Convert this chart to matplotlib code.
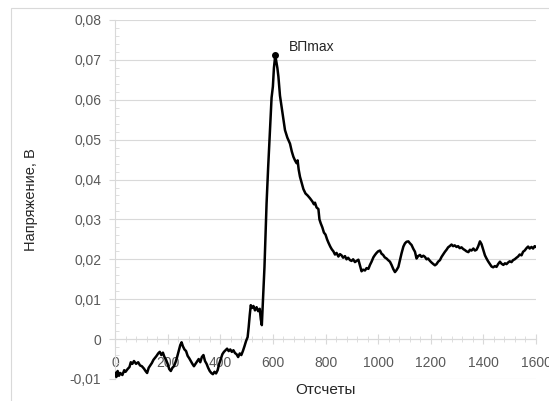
import matplotlib
matplotlib.use("Agg")
import matplotlib.pyplot as plt
from matplotlib.ticker import MultipleLocator, FuncFormatter
from matplotlib.patches import Rectangle

plt.rcParams["font.family"] = ["Liberation Sans", "DejaVu Sans"]

# signal (samples, volts)
samples = [
    0, 5, 10, 15, 20, 28, 35, 40, 48, 55, 60, 66, 72, 80, 88, 95, 102, 110,
    116, 122, 128, 134, 140, 146, 152, 158, 164, 170, 176, 182, 188, 194,
    200, 206, 212, 218, 224, 230, 236, 242, 248, 253, 258, 264, 270, 276,
    282, 288, 294, 300, 306, 312, 318, 324, 330, 336, 342, 348, 354, 360,
    366, 372, 378, 384, 390, 396, 402, 408, 414, 420, 426, 432, 438, 444,
    450, 456, 462, 468, 474, 480, 486, 492, 498, 504, 508, 512, 516, 520,
    526, 532, 538, 544, 550, 554, 558, 561, 564, 568, 572, 576, 582, 589,
    595, 600, 604, 608, 612, 617, 621, 627, 633, 640, 646, 655, 665, 672,
    678, 684, 690, 694, 698, 703, 710, 716, 724, 732, 741, 750, 756, 760,
    766, 773, 777, 782, 788, 794, 800, 806, 811, 818, 824, 830, 836, 842,
    849, 855, 861, 867, 874, 880, 886, 893, 899, 905, 912, 918, 925, 931,
    937, 943, 950, 956, 963, 969, 975, 982, 988, 994, 1000, 1007, 1013,
    1019, 1025, 1032, 1038, 1045, 1051, 1058, 1064, 1070, 1077, 1083, 1089,
    1096, 1102, 1108, 1115, 1121, 1127, 1134, 1140, 1146, 1152, 1159, 1165,
    1172, 1178, 1184, 1190, 1197, 1203, 1210, 1216, 1222, 1228, 1235, 1241,
    1248, 1254, 1260, 1266, 1272, 1279, 1285, 1291, 1298, 1304, 1310, 1317,
    1323, 1330, 1336, 1343, 1349, 1355, 1362, 1368, 1374, 1380, 1387, 1393,
    1400, 1406, 1412, 1418, 1425, 1431, 1437, 1444, 1450, 1456, 1463, 1469,
    1476, 1482, 1488, 1494, 1500, 1507, 1513, 1519, 1526, 1532, 1538, 1545,
    1551, 1557, 1564, 1570, 1576, 1583, 1589, 1595, 1600,
]
voltage = [
    -0.0085, -0.0095, -0.0080, -0.0092, -0.0085, -0.0090, -0.0078, -0.0082,
    -0.0075, -0.0070, -0.0058, -0.0062, -0.0055, -0.0062, -0.0058, -0.0066,
    -0.0068, -0.0074, -0.0080, -0.0085, -0.0072, -0.0066, -0.0060, -0.0052,
    -0.0047, -0.0042, -0.0036, -0.0032, -0.0040, -0.0034, -0.0045, -0.0052,
    -0.0062, -0.0075, -0.0080, -0.0072, -0.0068, -0.0058, -0.0045, -0.0030,
    -0.0015, -0.0008, -0.0018, -0.0026, -0.0030, -0.0042, -0.0048, -0.0055,
    -0.0062, -0.0068, -0.0062, -0.0056, -0.0050, -0.0058, -0.0045, -0.0040,
    -0.0055, -0.0062, -0.0072, -0.0080, -0.0085, -0.0088, -0.0082, -0.0086,
    -0.0078, -0.0062, -0.0050, -0.0038, -0.0032, -0.0028, -0.0024, -0.0030,
    -0.0026, -0.0032, -0.0028, -0.0035, -0.0038, -0.0045, -0.0036, -0.0040,
    -0.0030, -0.0018, -0.0005, 0.0005, 0.0030, 0.0060, 0.0085, 0.0078,
    0.0083, 0.0072, 0.0080, 0.0070, 0.0076, 0.0050, 0.0035, 0.0080,
    0.0120, 0.0180, 0.0260, 0.0340, 0.0430, 0.0524, 0.0605, 0.0633,
    0.0680, 0.0705, 0.0700, 0.0680, 0.0658, 0.0610, 0.0583, 0.0550,
    0.0524, 0.0505, 0.0490, 0.0470, 0.0457, 0.0448, 0.0441, 0.0448,
    0.0425, 0.0407, 0.0390, 0.0376, 0.0365, 0.0360, 0.0353, 0.0345,
    0.0338, 0.0342, 0.0330, 0.0326, 0.0300, 0.0290, 0.0280, 0.0267,
    0.0262, 0.0250, 0.0242, 0.0232, 0.0225, 0.0220, 0.0212, 0.0216,
    0.0207, 0.0213, 0.0210, 0.0204, 0.0208, 0.0200, 0.0204, 0.0198,
    0.0196, 0.0200, 0.0193, 0.0196, 0.0199, 0.0185, 0.0170, 0.0174,
    0.0172, 0.0178, 0.0176, 0.0186, 0.0194, 0.0205, 0.0211, 0.0216,
    0.0220, 0.0222, 0.0214, 0.0211, 0.0205, 0.0202, 0.0198, 0.0194,
    0.0186, 0.0175, 0.0168, 0.0173, 0.0181, 0.0198, 0.0215, 0.0232,
    0.0240, 0.0244, 0.0245, 0.0240, 0.0236, 0.0226, 0.0219, 0.0202,
    0.0208, 0.0211, 0.0206, 0.0209, 0.0206, 0.0200, 0.0202, 0.0196,
    0.0192, 0.0188, 0.0185, 0.0188, 0.0194, 0.0198, 0.0206, 0.0213,
    0.0219, 0.0224, 0.0230, 0.0233, 0.0237, 0.0233, 0.0235, 0.0231,
    0.0233, 0.0228, 0.0230, 0.0226, 0.0223, 0.0220, 0.0218, 0.0224,
    0.0222, 0.0227, 0.0222, 0.0224, 0.0232, 0.0245, 0.0238, 0.0223,
    0.0210, 0.0202, 0.0195, 0.0188, 0.0182, 0.0180, 0.0183, 0.0181,
    0.0188, 0.0194, 0.0189, 0.0186, 0.0190, 0.0188, 0.0192, 0.0195,
    0.0193, 0.0198, 0.0200, 0.0204, 0.0207, 0.0212, 0.0210, 0.0219,
    0.0222, 0.0228, 0.0232, 0.0227, 0.0231, 0.0227, 0.0233, 0.0231,
]
peak_x = 608
peak_y = 0.0713
peak_label = "ВПmax"

grid_c = "#d9d9d9"
tick_c = "#595959"

fig = plt.figure(figsize=(5.49, 4.01), dpi=100)
ax = fig.add_axes([0.2095, 0.0549, 0.7668, 0.8953])

# outer chart border (light grey, like an office chart area)
fig.patches.append(Rectangle((11 / 549, -0.05), 1.2, (401 - 8) / 401 + 0.05,
                             transform=fig.transFigure, fill=False,
                             edgecolor=grid_c, lw=0.8))

ax.plot(samples, voltage, color="black", lw=1.8, zorder=3)
ax.plot([peak_x], [peak_y], "o", color="black", ms=4, zorder=4)
ax.annotate(peak_label, (peak_x, peak_y), xytext=(10, 3),
            textcoords="offset points", fontsize=10, color="#262626")

ax.set_xlim(0, 1600)
ax.set_ylim(-0.01, 0.08)

ax.yaxis.set_major_locator(MultipleLocator(0.01))
ax.yaxis.set_minor_locator(MultipleLocator(0.002))
ax.xaxis.set_major_locator(MultipleLocator(200))
ax.xaxis.set_minor_locator(MultipleLocator(40))
ax.yaxis.set_major_formatter(FuncFormatter(
    lambda v, p: "0" if abs(v) < 1e-9 else f"{v:.2f}".replace(".", ",")))

ax.grid(axis="y", color=grid_c, lw=0.8, zorder=0)
ax.set_axisbelow(True)

for s in ["top", "right"]:
    ax.spines[s].set_visible(False)
ax.spines["bottom"].set_position(("data", 0))
ax.spines["bottom"].set_color(grid_c)
ax.spines["left"].set_color(grid_c)

ax.tick_params(axis="y", which="major", direction="out", length=4,
               color=grid_c, labelcolor=tick_c, labelsize=10, pad=6)
ax.tick_params(axis="y", which="minor", direction="in", length=3,
               color=grid_c)
ax.tick_params(axis="x", which="major", direction="inout", length=7,
               color=grid_c, labelcolor=tick_c, labelsize=10, pad=9)
ax.tick_params(axis="x", which="minor", direction="inout", length=4,
               color=grid_c)

ax.set_ylabel("Напряжение, В", fontsize=10.5, color="#262626")
ax.yaxis.set_label_coords(-0.2, 0.5)
ax.yaxis.label.set_va("center")
ax.set_xlabel("Отсчеты", fontsize=11, color="#262626")
ax.xaxis.set_label_coords(0.5, -0.031)
ax.xaxis.label.set_va("center")

fig.savefig("out.png", dpi=100)
